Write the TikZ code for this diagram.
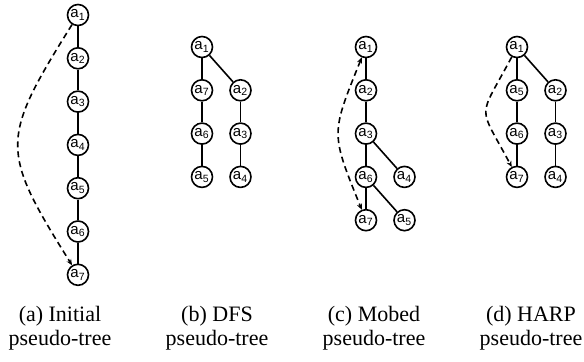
\documentclass[tikz,border=0pt]{standalone}
\usepackage{fontspec}
\setmainfont{Liberation Serif}
\setsansfont{Liberation Sans}
\usetikzlibrary{trees,arrows.meta}

\begin{document}
\begin{tikzpicture}[x=0.5pt,y=0.5pt,line width=0.8pt]
  \tikzstyle{agent}=[circle,draw,line width=0.8pt,inner sep=0pt,minimum size=10.5pt,font=\sffamily\fontsize{7.5}{7.5}\selectfont]
  \tikzstyle{every child node}=[agent]
  \tikzstyle{edge from parent}=[draw,line width=0.8pt]
  \tikzstyle{growdown}=[grow via three points={one child at (0,-43.3) and two children at (0,-43.3) and (38.5,-43.3)}]
  \tikzstyle{caption}=[align=center,font=\fontsize{11}{12}\selectfont]
  \tikzstyle{back}=[dash pattern=on 3pt off 2pt,-{Stealth[length=3pt,width=2.6pt]}]
  \useasboundingbox (0,0) rectangle (584,-361);

  % (a) initial pseudo-tree
  \node[agent] (ia1) at (78,-15) {a\textsubscript{1}} [growdown]
  child {node (ia2) {a\textsubscript{2}}
    child {node (ia3) {a\textsubscript{3}}
      child {node (ia4) {a\textsubscript{4}}
        child {node (ia5) {a\textsubscript{5}}
          child {node (ia6) {a\textsubscript{6}}
            child {node (ia7) {a\textsubscript{7}}}
          }
        }
      }
    }
  };
  \draw[back] (ia1) to[out=-122,in=122,looseness=1.45] (ia7);

  % (b) DFS pseudo-tree
  \node[agent] (da1) at (202,-47) {a\textsubscript{1}} [growdown]
  child {node (da7) {a\textsubscript{7}}
    child {node (da6) {a\textsubscript{6}}
      child {node (da5) {a\textsubscript{5}}}
    }
  }
  child {node (da2) {a\textsubscript{2}}
    child {node (da3) {a\textsubscript{3}}
      child {node (da4) {a\textsubscript{4}}}
    }
  };

  % (c) Mobed pseudo-tree
  \node[agent] (ma1) at (366,-47) {a\textsubscript{1}} [growdown]
  child {node (ma2) {a\textsubscript{2}}
    child {node (ma3) {a\textsubscript{3}}
      child {node (ma6) {a\textsubscript{6}}
        child {node (ma7) {a\textsubscript{7}}}
        child {node (ma5) {a\textsubscript{5}}}
      }
      child {node (ma4) {a\textsubscript{4}}}
    }
  };
  \draw[back,{Stealth[length=3pt,width=2.6pt]}-{Stealth[length=3pt,width=2.6pt]}] (ma1) to[out=-112,in=112,looseness=1.4] (ma7);

  % (d) HARP pseudo-tree
  \node[agent] (ha1) at (517,-47) {a\textsubscript{1}} [growdown]
  child {node (ha5) {a\textsubscript{5}}
    child {node (ha6) {a\textsubscript{6}}
      child {node (ha7) {a\textsubscript{7}}}
    }
  }
  child {node (ha2) {a\textsubscript{2}}
    child {node (ha3) {a\textsubscript{3}}
      child {node (ha4) {a\textsubscript{4}}}
    }
  };
  \draw[back] (ha1) to[out=-118,in=118,looseness=1.7] (ha7);

  % captions
  \node[caption] (capa) at (60,-328) {(a) Initial\\pseudo-tree};
  \node[caption] (capb) at (217,-328) {(b) DFS\\pseudo-tree};
  \node[caption] (capc) at (374,-328) {(c) Mobed\\pseudo-tree};
  \node[caption] (capd) at (531,-328) {(d) HARP\\pseudo-tree};
\end{tikzpicture}
\end{document}
